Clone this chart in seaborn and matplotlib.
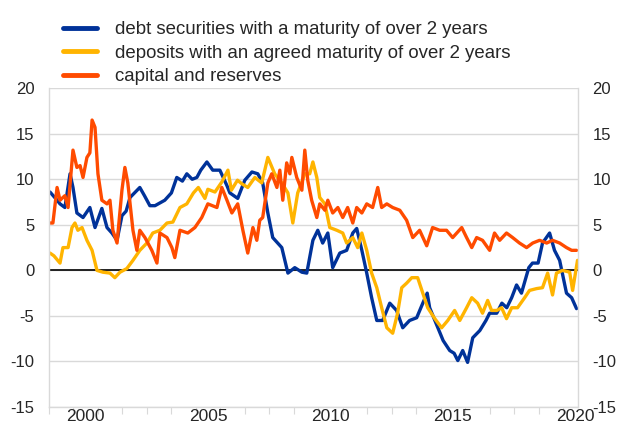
import numpy as np
import pandas as pd
import seaborn as sns
import matplotlib.pyplot as plt
from matplotlib.ticker import FixedLocator, NullFormatter

# series values (decimal year, annual % change)
debt_years = [1999.04, 1999.3, 1999.45, 1999.65, 1999.86, 1999.98, 2000.14, 2000.39, 2000.67, 2000.88,
              2001.16, 2001.37, 2001.57, 2001.78, 2001.98, 2002.15, 2002.31, 2002.71, 2002.9, 2003.12,
              2003.33, 2003.73, 2004.0, 2004.22, 2004.45, 2004.63, 2004.85, 2005.04, 2005.2, 2005.45,
              2005.69, 2005.98, 2006.27, 2006.39, 2006.71, 2007.0, 2007.29, 2007.53, 2007.73, 2007.94,
              2008.14, 2008.51, 2008.76, 2009.04, 2009.33, 2009.53, 2009.78, 2009.98, 2010.18, 2010.39,
              2010.59, 2010.88, 2011.16, 2011.41, 2011.57, 2011.78, 2011.98, 2012.18, 2012.39, 2012.63,
              2012.92, 2013.2, 2013.45, 2013.73, 2014.02, 2014.27, 2014.45, 2014.55, 2014.84, 2015.1,
              2015.37, 2015.55, 2015.7, 2015.9, 2016.1, 2016.31, 2016.6, 2016.85, 2017.0, 2017.29,
              2017.5, 2017.7, 2017.9, 2018.1, 2018.3, 2018.6, 2018.75, 2018.98, 2019.16, 2019.45,
              2019.65, 2019.86, 2020.14, 2020.35, 2020.55]
debt_values = [8.6, 7.8, 7.3, 6.9, 10.6, 9.1, 6.3, 5.8, 6.9, 4.7,
               6.8, 4.7, 4.1, 3.3, 6.0, 6.5, 8.0, 9.1, 8.2, 7.1,
               7.1, 7.7, 8.5, 10.2, 9.8, 10.6, 10.0, 10.2, 11.0, 11.9,
               11.0, 11.0, 9.3, 8.5, 7.9, 9.9, 10.8, 10.6, 9.6, 6.3,
               3.6, 2.5, -0.3, 0.3, -0.2, -0.3, 3.3, 4.4, 3.0, 4.1,
               0.3, 1.9, 2.2, 4.1, 4.6, 2.2, -0.3, -3.0, -5.5, -5.5,
               -3.6, -4.4, -6.3, -5.5, -5.2, -3.6, -2.5, -4.1, -6.0, -7.7,
               -8.8, -9.1, -9.9, -8.8, -10.1, -7.4, -6.6, -5.5, -4.7, -4.7,
               -3.6, -4.1, -3.0, -1.6, -2.5, 0.3, 0.8, 0.8, 3.0, 4.1,
               2.2, 1.1, -2.5, -3.0, -4.2]

dep_years = [1999.04, 1999.2, 1999.45, 1999.57, 1999.78, 1999.94, 2000.06, 2000.18, 2000.35, 2000.55,
             2000.76, 2000.96, 2001.2, 2001.49, 2001.69, 2001.9, 2002.18, 2002.43, 2002.71, 2003.0,
             2003.24, 2003.53, 2003.82, 2004.06, 2004.35, 2004.63, 2004.9, 2005.1, 2005.37, 2005.49,
             2005.78, 2006.06, 2006.31, 2006.45, 2006.7, 2006.88, 2007.12, 2007.41, 2007.69, 2007.94,
             2008.22, 2008.51, 2008.76, 2008.96, 2009.16, 2009.45, 2009.65, 2009.78, 2009.94, 2010.06,
             2010.27, 2010.47, 2010.76, 2011.0, 2011.16, 2011.41, 2011.61, 2011.78, 2011.98, 2012.18,
             2012.39, 2012.59, 2012.8, 2013.04, 2013.24, 2013.41, 2013.61, 2013.82, 2014.06, 2014.27,
             2014.47, 2014.76, 2015.04, 2015.29, 2015.57, 2015.78, 2016.06, 2016.27, 2016.51, 2016.71,
             2016.92, 2017.08, 2017.29, 2017.49, 2017.69, 2017.9, 2018.14, 2018.43, 2018.63, 2018.92,
             2019.16, 2019.37, 2019.57, 2019.73, 2019.98, 2020.27, 2020.39, 2020.59]
dep_values = [1.9, 1.6, 0.8, 2.5, 2.5, 4.7, 5.2, 4.4, 4.7, 3.3,
              2.2, 0.0, -0.2, -0.3, -0.8, -0.2, 0.2, 1.1, 2.2, 3.0,
              4.1, 4.4, 5.2, 5.3, 6.9, 7.3, 8.5, 9.1, 7.9, 8.9,
              8.6, 9.7, 11.0, 8.8, 9.9, 9.5, 9.1, 10.2, 9.6, 12.4,
              10.6, 9.6, 8.5, 5.2, 8.5, 10.6, 10.6, 11.9, 10.2, 8.0,
              7.3, 4.7, 4.4, 4.1, 3.0, 3.6, 2.5, 4.1, 2.2, -0.3,
              -1.9, -4.1, -6.3, -6.9, -4.7, -1.9, -1.4, -0.8, -0.8, -2.5,
              -4.1, -5.3, -6.3, -5.5, -4.4, -5.5, -4.1, -3.0, -3.6, -4.7,
              -3.3, -4.4, -4.4, -4.1, -5.3, -4.1, -4.1, -3.0, -2.2, -2.0,
              -1.9, -0.3, -2.7, -0.3, 0.0, -0.2, -2.2, 1.1]

cap_years = [1999.04, 1999.16, 1999.33, 1999.45, 1999.65, 1999.78, 1999.98, 2000.14, 2000.27, 2000.39,
             2000.55, 2000.67, 2000.76, 2000.88, 2001.0, 2001.16, 2001.37, 2001.49, 2001.61, 2001.78,
             2001.98, 2002.1, 2002.22, 2002.43, 2002.59, 2002.71, 2002.92, 2003.2, 2003.41, 2003.53,
             2003.82, 2004.02, 2004.14, 2004.35, 2004.67, 2004.96, 2005.24, 2005.49, 2005.86, 2006.06,
             2006.27, 2006.47, 2006.71, 2006.92, 2007.12, 2007.33, 2007.49, 2007.61, 2007.73, 2007.94,
             2008.1, 2008.31, 2008.43, 2008.55, 2008.71, 2008.84, 2008.92, 2009.12, 2009.33, 2009.45,
             2009.57, 2009.73, 2009.94, 2010.06, 2010.27, 2010.39, 2010.59, 2010.8, 2011.0, 2011.2,
             2011.41, 2011.57, 2011.78, 2011.98, 2012.22, 2012.43, 2012.59, 2012.8, 2013.04, 2013.33,
             2013.61, 2013.86, 2014.14, 2014.43, 2014.67, 2014.96, 2015.24, 2015.49, 2015.86, 2016.06,
             2016.27, 2016.47, 2016.71, 2017.0, 2017.2, 2017.41, 2017.69, 2017.94, 2018.22, 2018.51,
             2018.76, 2019.04, 2019.33, 2019.57, 2019.86, 2020.14, 2020.35, 2020.55]
cap_values = [5.2, 5.2, 9.1, 7.7, 8.2, 6.9, 13.2, 11.3, 11.5, 10.2,
              12.4, 12.9, 16.5, 15.7, 10.6, 7.7, 7.3, 7.7, 4.4, 3.0,
              8.8, 11.3, 9.6, 4.4, 2.2, 4.4, 3.6, 2.2, 0.8, 4.1,
              3.6, 2.5, 1.4, 4.4, 4.1, 4.7, 5.8, 7.3, 6.9, 9.1,
              7.7, 6.3, 7.3, 4.4, 1.9, 4.7, 3.3, 5.5, 5.8, 9.6,
              10.6, 9.1, 11.0, 7.7, 11.8, 10.6, 12.4, 10.2, 8.8, 13.2,
              9.9, 7.7, 5.8, 7.3, 6.6, 7.7, 6.3, 6.9, 5.8, 6.9,
              5.2, 6.9, 6.3, 7.3, 6.9, 9.1, 6.9, 7.3, 6.9, 6.6,
              5.5, 3.6, 4.4, 2.7, 4.7, 4.4, 4.4, 3.6, 4.7, 3.6,
              2.5, 3.6, 3.3, 2.2, 4.1, 3.3, 4.1, 3.6, 3.0, 2.5,
              3.0, 3.3, 3.0, 3.3, 3.0, 2.5, 2.2, 2.2]

labels = ["debt securities with a maturity of over 2 years",
          "deposits with an agreed maturity of over 2 years",
          "capital and reserves"]
colors = ["#003299", "#FFB400", "#FF4B00"]

y_ticks = [-15, -10, -5, 0, 5, 10, 15, 20]
x_labels = ["2000", "2005", "2010", "2015", "2020"]

df = pd.concat([
    pd.DataFrame({"year": debt_years, "value": debt_values, "series": labels[0]}),
    pd.DataFrame({"year": dep_years, "value": dep_values, "series": labels[1]}),
    pd.DataFrame({"year": cap_years, "value": cap_values, "series": labels[2]}),
])

sns.set_style("white")
plt.rcParams["font.family"] = ["Liberation Sans", "DejaVu Sans"]
plt.rcParams["axes.unicode_minus"] = False

fig = plt.figure(figsize=(6.17, 4.28), dpi=100)
ax = fig.add_axes([0.0794, 0.049, 0.857, 0.745])

sns.lineplot(data=df, x="year", y="value", hue="series", palette=colors,
             estimator=None, sort=False, linewidth=2.4, ax=ax, legend=False)

ax.axhline(0, color="black", linewidth=1.2, zorder=1)

ax.set_ylim(-15, 20)
ax.set_yticks(y_ticks)
ax.yaxis.grid(True, color="#d9d9d9", linewidth=1)
ax.set_axisbelow(True)
ax.tick_params(axis="y", left=False, right=False, labelleft=True, labelright=True,
               labelsize=12, pad=7)

ax.set_xlim(1999.0, 2020.6)
ax.xaxis.set_major_locator(FixedLocator(np.arange(1999, 2021)))
ax.xaxis.set_major_formatter(NullFormatter())
ax.xaxis.set_minor_locator(FixedLocator([int(s) + 0.5 for s in x_labels]))
ax.set_xticklabels(x_labels, minor=True)
ax.tick_params(axis="x", which="major", direction="out", length=5, color="#d9d9d9", bottom=True)
ax.tick_params(axis="x", which="minor", length=0, labelsize=12.5, pad=1.5)

ax.set_xlabel("")
ax.set_ylabel("")
for side in ["left", "right", "bottom"]:
    ax.spines[side].set_color("#d9d9d9")
    ax.spines[side].set_linewidth(1)
ax.spines["top"].set_visible(False)

handles = [plt.Line2D([], [], color=c, linewidth=3.5) for c in colors]
fig.legend(handles, labels, loc="upper left", bbox_to_anchor=(0.075, 0.99),
           frameon=False, fontsize=13.4, handlelength=1.85, handletextpad=0.95,
           labelspacing=0.35)

fig.savefig("out.png", dpi=100)
